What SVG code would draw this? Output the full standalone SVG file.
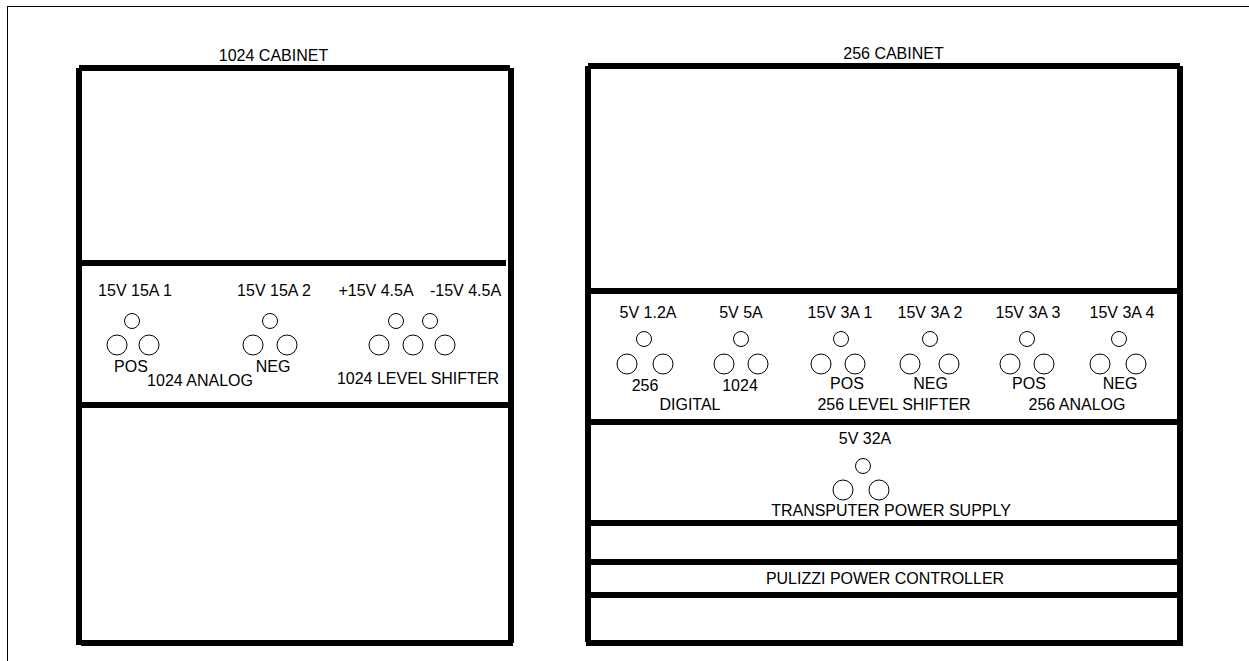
<svg xmlns="http://www.w3.org/2000/svg" width="1249" height="661" viewBox="0 0 1249 661">
<style>
text{font-family:"Liberation Sans",Arial,sans-serif;font-size:16px;fill:#000;text-anchor:middle}
.b{fill:#000;stroke:none}
.f{fill:#000}
circle{fill:#fff;stroke:#000;stroke-width:1}
</style>
<rect width="1249" height="661" fill="#fff"/>
<g id="frame"><rect class="f" x="7" y="6" width="1242" height="1"/><rect class="f" x="7" y="6" width="1" height="655"/></g>
<g id="cabinet-1024">
<rect class="b" x="79" y="65" width="431" height="6"/>
<rect class="b" x="76" y="68" width="6" height="577"/>
<rect class="b" x="508" y="68" width="6" height="575"/>
<rect class="b" x="81" y="640" width="432" height="6"/>
<rect class="b" x="80" y="260" width="426" height="6"/>
<rect class="b" x="80" y="402" width="430" height="6"/>
<text x="273.500" y="61">1024 CABINET</text>
</g>
<g id="panel-1024">
<text x="135" y="296">15V 15A 1</text><text x="274" y="296">15V 15A 2</text><text x="376" y="296">+15V 4.5A</text><text x="465.500" y="296">-15V 4.5A</text>
<circle cx="132" cy="321" r="7.5"/><circle cx="117" cy="345" r="10"/><circle cx="149" cy="345" r="10"/>
<circle cx="270" cy="321" r="7.5"/><circle cx="253" cy="345" r="10"/><circle cx="287" cy="345" r="10"/>
<circle cx="396" cy="321" r="7.5"/><circle cx="430" cy="321" r="7.5"/><circle cx="379" cy="345" r="10"/><circle cx="413" cy="345" r="10"/><circle cx="445" cy="345" r="10"/>
<text x="131" y="372">POS</text><text x="273" y="372">NEG</text><text x="200" y="386">1024 ANALOG</text><text x="418" y="384">1024 LEVEL SHIFTER</text>
</g>
<g id="cabinet-256">
<rect class="b" x="588" y="63" width="592" height="6"/>
<rect class="b" x="585" y="66" width="6" height="576"/>
<rect class="b" x="1177" y="66" width="6" height="580"/>
<rect class="b" x="586" y="640" width="597" height="6"/>
<rect class="b" x="587" y="288" width="590" height="6"/>
<rect class="b" x="587" y="419" width="590" height="6"/>
<rect class="b" x="587" y="520" width="590" height="6"/>
<rect class="b" x="587" y="559" width="590" height="6"/>
<rect class="b" x="587" y="592" width="590" height="6"/>
<text x="893.500" y="59">256 CABINET</text>
</g>
<g id="panel-256">
<text x="648" y="318">5V 1.2A</text><text x="741" y="318">5V 5A</text><text x="840" y="318">15V 3A 1</text><text x="930" y="318">15V 3A 2</text><text x="1028" y="318">15V 3A 3</text><text x="1122" y="318">15V 3A 4</text>
<circle cx="644" cy="339" r="7.5"/><circle cx="627" cy="364" r="10"/><circle cx="663" cy="364" r="10"/>
<circle cx="741" cy="339" r="7.5"/><circle cx="724" cy="364" r="10"/><circle cx="758" cy="364" r="10"/>
<circle cx="841" cy="339" r="7.5"/><circle cx="821" cy="364" r="10"/><circle cx="855" cy="364" r="10"/>
<circle cx="930" cy="339" r="7.5"/><circle cx="910" cy="364" r="10"/><circle cx="949" cy="364" r="10"/>
<circle cx="1027" cy="339" r="7.5"/><circle cx="1010" cy="364" r="10"/><circle cx="1044" cy="364" r="10"/>
<circle cx="1119" cy="339" r="7.5"/><circle cx="1100" cy="364" r="10"/><circle cx="1136" cy="364" r="10"/>
<text x="645" y="391">256</text><text x="740" y="391">1024</text><text x="847" y="389">POS</text><text x="930.500" y="389">NEG</text><text x="1029" y="389">POS</text><text x="1120" y="389">NEG</text>
<text x="690" y="410">DIGITAL</text><text x="894" y="410">256 LEVEL SHIFTER</text><text x="1077" y="410">256 ANALOG</text>
</g>
<g id="transputer-power-supply">
<text x="865" y="444">5V 32A</text>
<circle cx="863" cy="466" r="7.5"/><circle cx="843" cy="490" r="10"/><circle cx="879" cy="490" r="10"/>
<text x="891" y="516">TRANSPUTER POWER SUPPLY</text>
</g>
<g id="pulizzi-power-controller"><text x="885" y="584">PULIZZI POWER CONTROLLER</text></g>
</svg>
